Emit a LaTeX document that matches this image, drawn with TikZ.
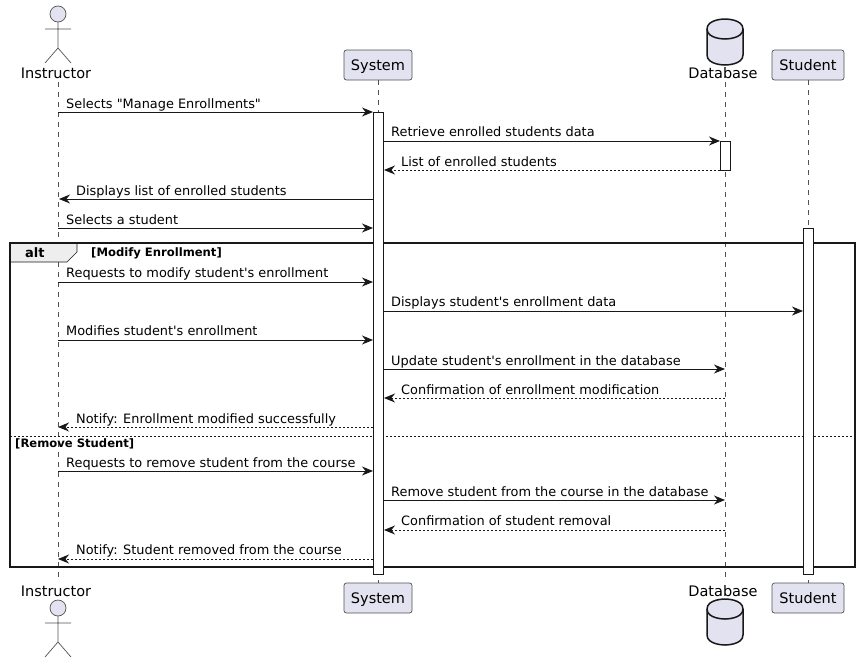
\documentclass[tikz,border=0pt]{standalone}
\usepackage{fontspec}
\setmainfont{DejaVu Sans}[Ligatures=TeXOff]
\usetikzlibrary{positioning, arrows.meta}
\definecolor{partfill}{HTML}{E2E2F0}
\definecolor{partline}{HTML}{181818}
\definecolor{tabfill}{HTML}{EEEEEE}
\tikzstyle{part}=[rectangle, rounded corners=2.5pt, draw=partline!75, line width=0.7pt, fill=partfill, minimum height=30pt, inner sep=0pt, text height=14pt, text depth=3pt, font=\fontsize{14.5}{16}\selectfont]
\tikzstyle{partname}=[inner sep=0pt, minimum height=18pt, text height=10pt, text depth=0pt, font=\fontsize{14.5}{16}\selectfont]
\tikzstyle{lifeline}=[partline!75, line width=0.5pt, dash pattern=on 5pt off 5pt]
\tikzstyle{bar}=[rectangle, draw=partline, fill=white, line width=1pt, minimum width=10pt, inner sep=0pt]
\tikzstyle{msg}=[partline, line width=1pt, -{Stealth[length=11pt, width=9pt, inset=3.5pt]}]
\tikzstyle{reply}=[msg, dash pattern=on 2pt off 2pt]
\tikzstyle{txt}=[anchor=base west, inner sep=0pt, font=\fontsize{12.9}{15}\selectfont]
\tikzstyle{grp}=[anchor=base west, inner sep=0pt, font=\fontsize{11.6}{13}\selectfont\bfseries]
\tikzset{
  actorfig/.pic={
    \draw[partline!75, line width=0.7pt, fill=partfill] (0,0) circle[radius=8pt];
    \draw[partline!75, line width=0.7pt] (0,8) -- (0,34) (-13,15) -- (13,15) (-13,49) -- (0,34) -- (13,49);
  },
  dbfig/.pic={
    \draw[partline, line width=1.5pt, fill=partfill] (-18,10) .. controls (-18,0) and (0,0) .. (0,0) .. controls (0,0) and (18,0) .. (18,10) -- (18,36) .. controls (18,46) and (0,46) .. (0,46) .. controls (0,46) and (-18,46) .. (-18,36) -- cycle;
    \draw[partline, line width=1.5pt] (-18,10) .. controls (-18,20) and (0,20) .. (0,20) .. controls (0,20) and (18,20) .. (18,10);
  }
}

\begin{document}
\begin{tikzpicture}[x=1pt, y=-1pt]
    \useasboundingbox (0,0) rectangle (860,664);

    % Participants, top
    \pic at (58,14) {actorfig};
    \node[partname] (instTop) at (56,73) {Instructor};
    \node[part, minimum width=68pt] (sysTop) at (378,65) {System};
    \pic at (725,19) {dbfig};
    \node[partname] (dbTop) at (723,73) {Database};
    \node[part, minimum width=72pt] (stuTop) at (808,65) {Student};

    % Participants, bottom
    \node[partname] (instBot) at (56,591) {Instructor};
    \pic at (58,608) {actorfig};
    \node[part, minimum width=68pt] (sysBot) at (378,598) {System};
    \node[partname] (dbBot) at (723,591) {Database};
    \pic at (725,599) {dbfig};
    \node[part, minimum width=72pt] (stuBot) at (808,598) {Student};

    % Lifelines
    \draw[lifeline] (instTop.south -| 58,0) -- (instBot.north -| 58,0);
    \draw[lifeline] (sysTop) -- (sysBot);
    \draw[lifeline] (dbTop.south -| 725,0) -- (dbBot.north -| 725,0);
    \draw[lifeline] (stuTop) -- (stuBot);

    % Alt frame
    \coordinate (frameA) at (10,243);
    \coordinate (frameB) at (855,567);
    \coordinate (sepA) at (10,436);
    \coordinate (sepB) at (855,436);
    \draw[partline, line width=0.7pt, fill=tabfill] (frameA) -- (77,243) -- (77,252) -- (67,262) -- (10,262) -- cycle;
    \draw[partline, line width=1.5pt] (frameA) rectangle (frameB);
    \draw[partline, line width=0.7pt, dash pattern=on 2pt off 2pt] (sepA) -- (sepB);
    \node[txt, font=\fontsize{13}{15}\selectfont\bfseries] (altTxt) at (25,257) {alt};
    \node[grp] (modTxt) at (91,256) {[Modify Enrollment]};
    \node[grp] (remTxt) at (15,447) {[Remove Student]};

    % Activation bars
    \node[bar, minimum height=462pt] (sysBar) at (378,343) {};
    \node[bar, minimum height=29pt] (dbBar) at (725,155.5) {};
    \node[bar, minimum height=346pt] (stuBar) at (808,401) {};

    % Messages
    \coordinate (a1) at (58,112); \coordinate (b1) at (373,112);
    \draw[msg] (a1) -- (b1);
    \node[txt] (t1) at (66,108) {Selects "Manage Enrollments"};

    \coordinate (a2) at (383,141); \coordinate (b2) at (720,141);
    \draw[msg] (a2) -- (b2);
    \node[txt] (t2) at (391,136) {Retrieve enrolled students data};

    \coordinate (a3) at (720,170); \coordinate (b3) at (384,170);
    \draw[reply] (a3) -- (b3);
    \node[txt] (t3) at (401,166) {List of enrolled students};

    \coordinate (a4) at (373,199); \coordinate (b4) at (59,199);
    \draw[msg] (a4) -- (b4);
    \node[txt] (t4) at (76,195) {Displays list of enrolled students};

    \coordinate (a5) at (58,228); \coordinate (b5) at (373,228);
    \draw[msg] (a5) -- (b5);
    \node[txt] (t5) at (66,224) {Selects a student};

    \coordinate (a6) at (58,282); \coordinate (b6) at (373,282);
    \draw[msg] (a6) -- (b6);
    \node[txt] (t6) at (66,277) {Requests to modify student's enrollment};

    \coordinate (a7) at (383,311); \coordinate (b7) at (803,311);
    \draw[msg] (a7) -- (b7);
    \node[txt] (t7) at (391,306) {Displays student's enrollment data};

    \coordinate (a8) at (58,340); \coordinate (b8) at (373,340);
    \draw[msg] (a8) -- (b8);
    \node[txt] (t8) at (66,335) {Modifies student's enrollment};

    \coordinate (a9) at (383,369); \coordinate (b9) at (725,369);
    \draw[msg] (a9) -- (b9);
    \node[txt] (t9) at (391,365) {Update student's enrollment in the database};

    \coordinate (a10) at (725,398); \coordinate (b10) at (384,398);
    \draw[reply] (a10) -- (b10);
    \node[txt] (t10) at (401,394) {Confirmation of enrollment modification};

    \coordinate (a11) at (373,427); \coordinate (b11) at (58,427);
    \draw[reply] (a11) -- (b11);
    \node[txt] (t11) at (76,423) {Notify: Enrollment modified successfully};

    \coordinate (a12) at (58,471); \coordinate (b12) at (373,471);
    \draw[msg] (a12) -- (b12);
    \node[txt] (t12) at (66,467) {Requests to remove student from the course};

    \coordinate (a13) at (383,500); \coordinate (b13) at (725,500);
    \draw[msg] (a13) -- (b13);
    \node[txt] (t13) at (391,496) {Remove student from the course in the database};

    \coordinate (a14) at (725,530); \coordinate (b14) at (384,530);
    \draw[reply] (a14) -- (b14);
    \node[txt] (t14) at (401,525) {Confirmation of student removal};

    \coordinate (a15) at (373,559); \coordinate (b15) at (58,559);
    \draw[reply] (a15) -- (b15);
    \node[txt] (t15) at (76,554) {Notify: Student removed from the course};
\end{tikzpicture}
\end{document}
